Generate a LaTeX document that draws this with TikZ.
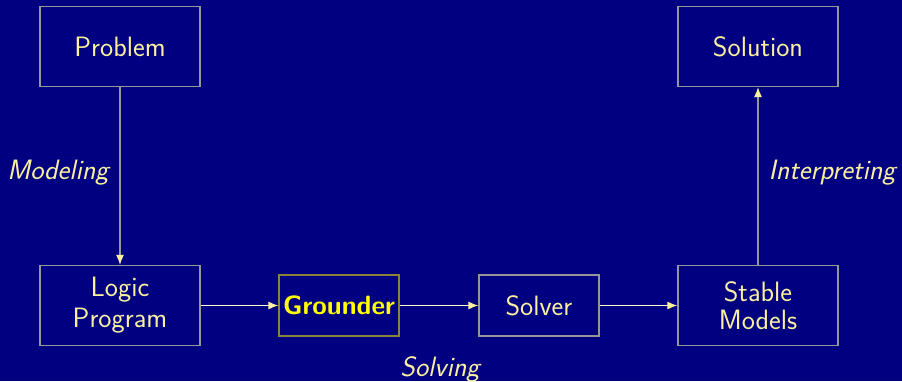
\documentclass[tikz,border=0pt]{standalone}
\usetikzlibrary{arrows.meta}
\definecolor{bgblue}{RGB}{0,0,128}
\definecolor{txtyel}{RGB}{250,240,160}
\definecolor{boxgray}{RGB}{150,150,150}
\definecolor{olivebd}{RGB}{140,130,60}
\definecolor{lineyel}{RGB}{255,250,200}
\definecolor{brightyel}{RGB}{255,255,0}
\tikzset{
  bigbox/.style={draw=boxgray, line width=1.3pt, minimum width=160pt, minimum height=80pt, inner sep=0pt, text=txtyel, align=center, font=\sffamily\fontsize{28}{31}\selectfont},
  smallbox/.style={draw=boxgray, line width=1.3pt, minimum width=120pt, minimum height=61pt, inner sep=0pt, text=txtyel, align=center, font=\sffamily\fontsize{28}{31}\selectfont},
  vline/.style={draw=boxgray, line width=1.1pt, -{Latex[length=10pt,width=8pt,color=txtyel]}},
  hline/.style={draw=lineyel, line width=1.1pt, -{Latex[length=10pt,width=8pt,color=txtyel]}},
  lbl/.style={text=txtyel, font=\sffamily\itshape\fontsize{28}{31}\selectfont, inner sep=0pt}
}
\begin{document}
\begin{tikzpicture}[x=1pt,y=-1pt]
\fill[bgblue] (0,0) rectangle (902,381);
\useasboundingbox (0,0) rectangle (902,381);
\node[bigbox] (problem) at (120,46.5) {Problem};
\node[bigbox] (solution) at (758,46.5) {Solution};
\node[bigbox] (logic) at (120,305.5) {Logic\\Program};
\node[smallbox, draw=olivebd, text=brightyel, font=\sffamily\bfseries\fontsize{26.5}{30}\selectfont] (grounder) at (339,305.5) {Grounder};
\node[smallbox] (solver) at (539,305.5) {Solver};
\node[bigbox, font=\sffamily\fontsize{28}{28}\selectfont] (stable) at (758,305.5) {Stable\\Models};
\draw[vline] (problem) -- (logic);
\draw[vline] (stable) -- (solution);
\draw[hline] (logic) -- (grounder);
\draw[hline] (grounder) -- (solver);
\draw[hline] (solver) -- (stable);
\node[lbl] (modeling) at (58,173) {Modeling};
\node[lbl] (interp) at (832,173) {Interpreting};
\node[lbl] (solving) at (440,369) {Solving};
\end{tikzpicture}
\end{document}
